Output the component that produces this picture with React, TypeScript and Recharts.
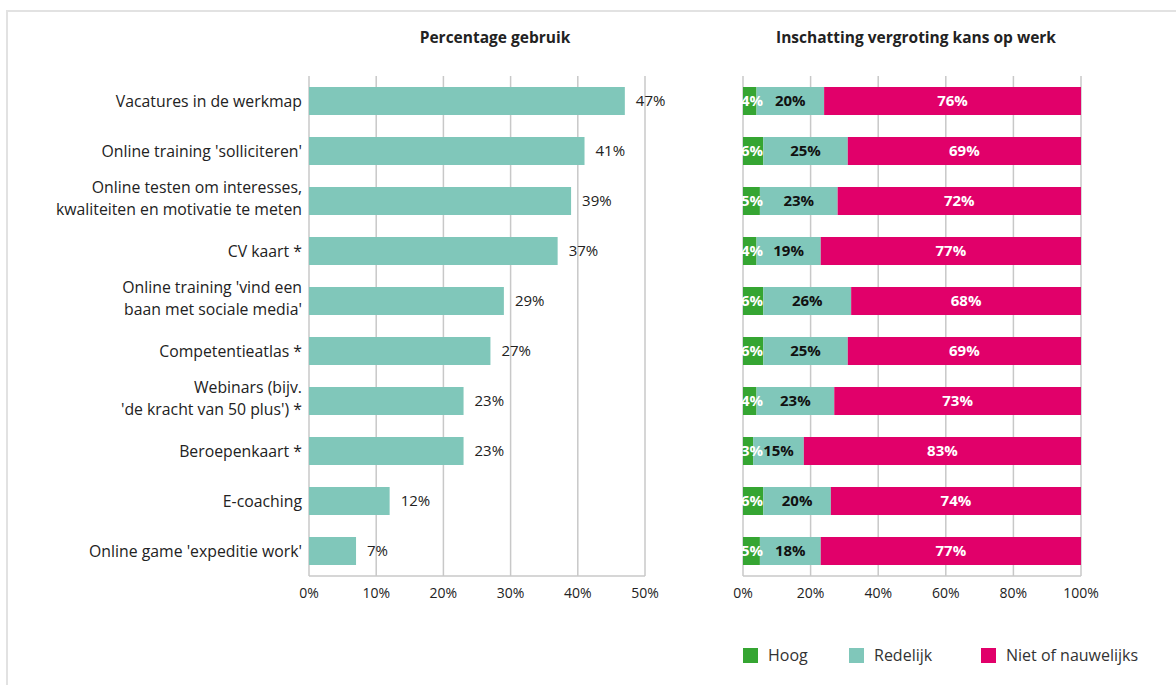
import React from "react";
import {
  Bar,
  BarChart,
  CartesianGrid,
  LabelList,
  Legend,
  XAxis,
  YAxis,
} from "recharts";

const categories = [
  "Vacatures in de werkmap",
  "Online training 'solliciteren'",
  "Online testen om interesses,\nkwaliteiten en motivatie te meten",
  "CV kaart *",
  "Online training 'vind een\nbaan met sociale media'",
  "Competentieatlas *",
  "Webinars (bijv.\n'de kracht van 50 plus') *",
  "Beroepenkaart *",
  "E-coaching",
  "Online game 'expeditie work'",
];

const usage = [47, 41, 39, 37, 29, 27, 23, 23, 12, 7];
const hoog = [4, 6, 5, 4, 6, 6, 4, 3, 6, 5];
const redelijk = [20, 25, 23, 19, 26, 25, 23, 15, 20, 18];
const niet = [76, 69, 72, 77, 68, 69, 73, 83, 74, 77];

const usageTicks = [0, 10, 20, 30, 40, 50];
const chanceTicks = [0, 20, 40, 60, 80, 100];

const FONT = "'Open Sans', sans-serif";
const TEAL = "#80c7ba";
const GREEN = "#35a532";
const MAGENTA = "#e1006a";
const GRID = "#c8c8c8";
const INK = "#222222";

const usageData = categories.map((name, i) => ({ name, usage: usage[i] }));
const chanceData = categories.map((name, i) => ({
  name,
  hoog: hoog[i],
  redelijk: redelijk[i],
  niet: niet[i],
}));

const pct = (v: unknown) => `${v}%`;

function CategoryTick({ x, y, payload }: { x?: number; y?: number; payload?: { value: string } }) {
  const lines = String(payload?.value ?? "").split("\n");
  const lh = 21.5;
  const start = -((lines.length - 1) * lh) / 2 - (lines.length > 1 ? 3 : 0);
  return (
    <g>
      {lines.map((line, i) => (
        <text
          key={i}
          x={x}
          y={(y ?? 0) + start + i * lh}
          textAnchor="end"
          dominantBaseline="central"
          fontSize={15.8}
          fontFamily={FONT}
          fill={INK}
        >
          {line}
        </text>
      ))}
    </g>
  );
}

function ChanceLegend() {
  const items = [
    { label: "Hoog", color: GREEN, width: 106 },
    { label: "Redelijk", color: TEAL, width: 132 },
    { label: "Niet of nauwelijks", color: MAGENTA, width: 180 },
  ];
  return (
    <div style={{ display: "flex", fontFamily: FONT, fontSize: 16, color: "#333" }}>
      {items.map((it) => (
        <div key={it.label} style={{ display: "flex", alignItems: "center", width: it.width }}>
          <span style={{ width: 15, height: 15, background: it.color, marginRight: 10 }} />
          {it.label}
        </div>
      ))}
    </div>
  );
}

const titleStyle: React.CSSProperties = {
  position: "absolute",
  top: 26,
  width: 400,
  fontFamily: FONT,
  fontWeight: 700,
  fontSize: 15.5,
  color: INK,
  textAlign: "center",
};

const valueLabel = { fontSize: 15, fontFamily: FONT };
const stackLabel = { fontSize: 15, fontWeight: 700, fontFamily: FONT };

export default function App() {
  return (
    <div
      style={{
        position: "fixed",
        left: 0,
        top: 0,
        width: 1176,
        height: 685,
        overflow: "hidden",
        background: "#fff",
      }}
    >
      <div
        style={{
          position: "absolute",
          left: 6,
          top: 10,
          width: 1300,
          height: 800,
          borderLeft: "2px solid #e2e2e2",
          borderTop: "2px solid #e2e2e2",
        }}
      />
      <div style={{ ...titleStyle, left: 495 - 200 }}>Percentage gebruik</div>
      <div style={{ ...titleStyle, left: 916 - 200 }}>Inschatting vergroting kans op werk</div>

      <div style={{ position: "absolute", left: 0, top: 0 }}>
        <BarChart
          width={700}
          height={685}
          data={usageData}
          layout="vertical"
          margin={{ top: 76, right: 55, bottom: 79, left: 0 }}
          barSize={28}
        >
          <CartesianGrid horizontal={false} stroke={GRID} strokeWidth={1.5} />
          <XAxis
            type="number"
            domain={[0, 50]}
            ticks={usageTicks}
            tickFormatter={pct}
            height={30}
            axisLine={{ stroke: GRID, strokeWidth: 1.5 }}
            tickLine={false}
            tickSize={0}
            tickMargin={12}
            tick={{ fontSize: 14, fill: INK, fontFamily: FONT }}
          />
          <YAxis
            type="category"
            dataKey="name"
            width={309}
            axisLine={false}
            tickLine={false}
            tickSize={0}
            tickMargin={7}
            tick={<CategoryTick />}
            interval={0}
          />
          <Bar dataKey="usage" fill={TEAL} isAnimationActive={false}>
            <LabelList
              dataKey="usage"
              position="right"
              offset={11}
              formatter={pct}
              fill={INK}
              {...valueLabel}
            />
          </Bar>
        </BarChart>
      </div>

      <div style={{ position: "absolute", left: 700, top: 0 }}>
        <BarChart
          width={476}
          height={685}
          data={chanceData}
          layout="vertical"
          margin={{ top: 76, right: 95, bottom: 79, left: 43 }}
          barSize={28}
        >
          <CartesianGrid horizontal={false} stroke={GRID} strokeWidth={1.5} />
          <XAxis
            type="number"
            domain={[0, 100]}
            allowDataOverflow
            ticks={chanceTicks}
            tickFormatter={pct}
            height={30}
            axisLine={{ stroke: GRID, strokeWidth: 1.5 }}
            tickLine={false}
            tickSize={0}
            tickMargin={12}
            tick={{ fontSize: 14, fill: INK, fontFamily: FONT }}
          />
          <YAxis type="category" dataKey="name" hide width={0} />
          <Legend
            verticalAlign="middle"
            align="center"
            content={<ChanceLegend />}
            wrapperStyle={{ left: 43, top: 644, width: 433, height: 20 }}
          />
          <Bar dataKey="hoog" stackId="a" fill={GREEN} isAnimationActive={false}>
            <LabelList
              dataKey="hoog"
              position="insideLeft"
              offset={-2}
              formatter={pct}
              fill="#fff"
              {...stackLabel}
            />
          </Bar>
          <Bar dataKey="redelijk" stackId="a" fill={TEAL} isAnimationActive={false}>
            <LabelList dataKey="redelijk" position="center" formatter={pct} fill="#111" {...stackLabel} />
          </Bar>
          <Bar dataKey="niet" stackId="a" fill={MAGENTA} isAnimationActive={false}>
            <LabelList dataKey="niet" position="center" formatter={pct} fill="#fff" {...stackLabel} />
          </Bar>
        </BarChart>
      </div>
    </div>
  );
}
